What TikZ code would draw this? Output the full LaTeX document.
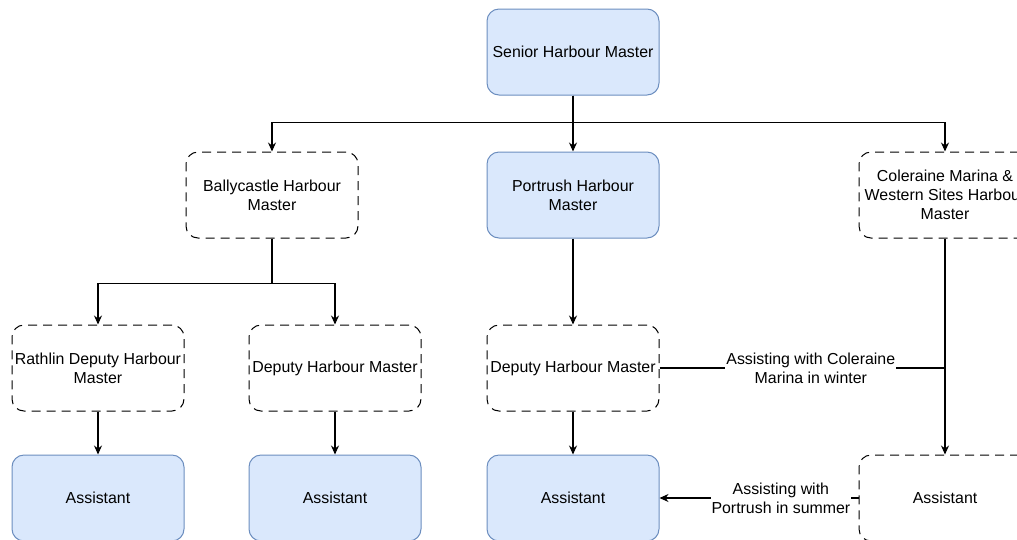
\documentclass[tikz,border=0pt]{standalone}
\usepackage{fontspec}
\setmainfont{Liberation Sans}
\usetikzlibrary{arrows.meta}
\definecolor{boxfill}{HTML}{DAE8FC}
\definecolor{boxline}{HTML}{6C8EBF}

\begin{document}
\begin{tikzpicture}[x=1pt,y=-1pt,
    >={Stealth[length=9pt,width=8pt]},
    post/.style={draw=boxline,fill=boxfill,rounded corners=12pt,line width=1pt,
      minimum width=172pt,minimum height=86pt,inner sep=1pt,align=center,
      font=\fontsize{15.9}{19}\selectfont},
    vacant/.style={post,draw=black,fill=white,dash pattern=on 9pt off 6pt},
    link/.style={line width=1.1pt},
    note/.style={fill=white,inner sep=1pt,align=center,font=\fontsize{15.9}{19}\selectfont}]
    \useasboundingbox (0,0) rectangle (1017,539);
    \clip (0,0) rectangle (1017,539);

    % Top level
    \node[post] (senior) at (573,52) {Senior Harbour Master};

    % Harbour masters
    \node[vacant] (bally) at (272,195) {Ballycastle Harbour\\Master};
    \node[post] (portrush) at (573,195) {Portrush Harbour\\Master};
    \node[vacant] (coleraine) at (945,195) {Coleraine Marina \&\\Western Sites Harbour\\Master};

    % Deputies
    \node[vacant] (rathlin) at (98,368) {Rathlin Deputy Harbour\\Master};
    \node[vacant] (deputyA) at (335,368) {Deputy Harbour Master};
    \node[vacant] (deputyB) at (573,368) {Deputy Harbour Master};

    % Assistants
    \node[post] (assistA) at (98,498) {Assistant};
    \node[post] (assistB) at (335,498) {Assistant};
    \node[post] (assistC) at (573,498) {Assistant};
    \node[vacant] (assistD) at (945,498) {Assistant};

    % Reporting lines
    \draw[->,link] (senior.south) -- ++(0,27) -| (bally.north);
    \draw[->,link] (senior.south) -- (portrush.north);
    \draw[->,link] (senior.south) -- ++(0,27) -| (coleraine.north);
    \draw[->,link] (bally.south) -- ++(0,45) -| (rathlin.north);
    \draw[->,link] (bally.south) -- ++(0,45) -| (deputyA.north);
    \draw[->,link] (portrush.south) -- (deputyB.north);
    \draw[->,link] (rathlin.south) -- (assistA.north);
    \draw[->,link] (deputyA.south) -- (assistB.north);
    \draw[->,link] (deputyB.south) -- (assistC.north);
    \draw[->,link] (coleraine.south) -- (assistD.north);

    % Seasonal help
    \draw[link] (deputyB.east) -- node[note,pos=0.53] {Assisting with Coleraine\\Marina in winter} (deputyB.east -| coleraine.south);
    \draw[->,link] (assistD.west) -- node[note,pos=0.39] {Assisting with\\Portrush in summer} (assistC.east);
\end{tikzpicture}
\end{document}
